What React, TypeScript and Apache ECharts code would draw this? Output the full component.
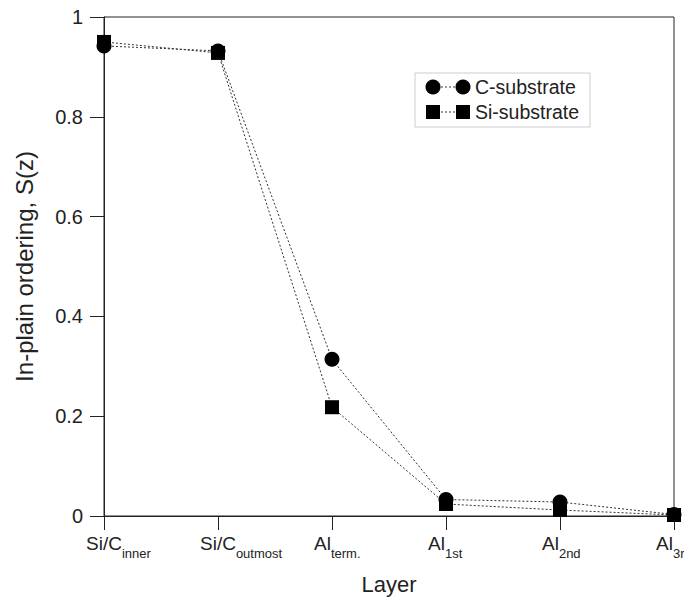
import React, { useEffect, useRef } from "react";
import * as echarts from "echarts";

const layerMain = ["Si/C", "Si/C", "Al", "Al", "Al", "Al"];
const layerSub = ["inner", "outmost", "term.", "1st", "2nd", "3rd"];
const categories = layerMain.map((m, i) => m + "_" + layerSub[i]);
const cSubstrate = [0.942, 0.932, 0.314, 0.033, 0.028, 0.003];
const siSubstrate = [0.95, 0.928, 0.218, 0.024, 0.012, 0.002];
const yTicks = [0, 0.2, 0.4, 0.6, 0.8, 1];

const FONT = "Liberation Sans, Arial, Helvetica, sans-serif";

export default function App() {
  const ref = useRef<HTMLDivElement>(null);
  useEffect(() => {
    document.body.style.margin = "0";
    const chart = echarts.init(ref.current!, null, { renderer: "svg" });
    const lineStyle = { color: "#333", width: 1, type: [2, 2] as any };
    const legendY1 = 87;
    const legendY2 = 112;
    chart.setOption({
      animation: false,
      backgroundColor: "#fff",
      textStyle: { fontFamily: FONT },
      grid: {
        left: 104, right: 10, top: 17, bottom: 83,
        show: true, borderColor: "#222", borderWidth: 1,
        outerBoundsMode: "none", containLabel: false,
      },
      xAxis: {
        type: "category",
        data: categories,
        boundaryGap: false,
        name: "Layer",
        nameLocation: "middle",
        nameGap: 57,
        nameTextStyle: { fontSize: 22, color: "#222", fontFamily: FONT },
        axisLine: { lineStyle: { color: "#222", width: 1 } },
        axisTick: { show: true, length: 14, inside: false, alignWithLabel: true, lineStyle: { color: "#222" } },
        axisLabel: {
          interval: 0,
          align: "left",
          margin: 18,
          padding: [0, 0, 0, -18],
          color: "#222",
          hideOverlap: false,
          formatter: (v: string, i: number) => `{b|${layerMain[i]}}{s|${layerSub[i]}}`,
          rich: {
            b: { fontSize: 19, lineHeight: 22, verticalAlign: "top", color: "#222", fontFamily: FONT },
            s: { fontSize: 13, lineHeight: 14, verticalAlign: "top", padding: [13, 0, 0, 0], color: "#222", fontFamily: FONT },
          },
        },
        splitLine: { show: false },
      },
      yAxis: {
        type: "value",
        min: 0,
        max: 1,
        interval: 0.2,
        name: "In-plain ordering, S(z)",
        nameLocation: "middle",
        nameGap: 68,
        nameTextStyle: { fontSize: 24, color: "#222", fontFamily: FONT },
        axisLine: { show: true, lineStyle: { color: "#222", width: 1 } },
        axisTick: { show: true, length: 14, inside: false, lineStyle: { color: "#222" } },
        axisLabel: {
          margin: 21,
          fontSize: 20,
          color: "#222",
          fontFamily: FONT,
          formatter: (v: number) => (yTicks.includes(Math.round(v * 10) / 10) ? (v === 0 ? "0" : v === 1 ? "1" : v.toFixed(1)) : ""),
        },
        splitLine: { show: false },
      },
      series: [
        {
          name: "Si-substrate",
          type: "line",
          data: siSubstrate,
          symbol: "rect",
          symbolSize: 14,
          itemStyle: { color: "#000" },
          lineStyle,
          z: 2,
        },
        {
          name: "C-substrate",
          type: "line",
          data: cSubstrate,
          symbol: "circle",
          symbolSize: 15,
          itemStyle: { color: "#000" },
          lineStyle,
          z: 3,
        },
      ],
      graphic: [
        { type: "rect", shape: { x: 415, y: 73, width: 175, height: 54 }, style: { fill: "#fff", stroke: "#ccc", lineWidth: 1 }, z: 10 },
        { type: "line", shape: { x1: 433, y1: legendY1, x2: 463, y2: legendY1 }, style: { stroke: "#333", lineWidth: 1, lineDash: [2, 2] }, z: 11 },
        { type: "circle", shape: { cx: 433, cy: legendY1, r: 7.5 }, style: { fill: "#000" }, z: 12 },
        { type: "circle", shape: { cx: 463, cy: legendY1, r: 7.5 }, style: { fill: "#000" }, z: 12 },
        { type: "text", x: 475, y: legendY1, style: { text: "C-substrate", fontSize: 19.5, fontFamily: FONT, fill: "#222", verticalAlign: "middle" }, z: 12 },
        { type: "line", shape: { x1: 433, y1: legendY2, x2: 463, y2: legendY2 }, style: { stroke: "#333", lineWidth: 1, lineDash: [2, 2] }, z: 11 },
        { type: "rect", shape: { x: 426, y: legendY2 - 7, width: 14, height: 14 }, style: { fill: "#000" }, z: 12 },
        { type: "rect", shape: { x: 456, y: legendY2 - 7, width: 14, height: 14 }, style: { fill: "#000" }, z: 12 },
        { type: "text", x: 475, y: legendY2, style: { text: "Si-substrate", fontSize: 19.5, fontFamily: FONT, fill: "#222", verticalAlign: "middle" }, z: 12 },
      ],
    });
    return () => chart.dispose();
  }, []);
  return <div ref={ref} style={{ width: 684, height: 599 }} />;
}
